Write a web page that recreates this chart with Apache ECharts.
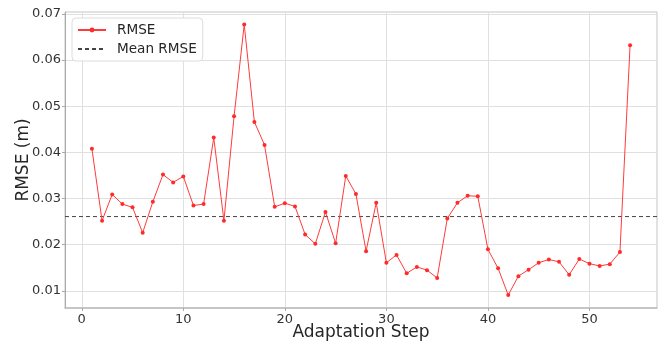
<!DOCTYPE html>
<html>
<head>
<meta charset="utf-8">
<script src="https://cdn.jsdelivr.net/npm/echarts@6/dist/echarts.min.js"></script>
<style>
  html, body { margin: 0; padding: 0; background: #fff; }
  #chart { width: 660px; height: 345px; }
</style>
</head>
<body>
<div id="chart"></div>
<script>
// adaptation steps 1..54
const steps = [1, 2, 3, 4, 5, 6, 7, 8, 9, 10, 11, 12, 13, 14, 15, 16, 17, 18, 19, 20,
  21, 22, 23, 24, 25, 26, 27, 28, 29, 30, 31, 32, 33, 34, 35, 36, 37, 38, 39, 40,
  41, 42, 43, 44, 45, 46, 47, 48, 49, 50, 51, 52, 53, 54]
const rmse = [0.0408, 0.0252, 0.0309, 0.0288, 0.0281, 0.0226, 0.0293, 0.0352, 0.0335, 0.0348,
  0.0285, 0.0288, 0.0432, 0.0252, 0.0478, 0.0677, 0.0466, 0.0416, 0.0282, 0.0290,
  0.0283, 0.0222, 0.0202, 0.0271, 0.0203, 0.0349, 0.0310, 0.0186, 0.0291, 0.0161,
  0.0178, 0.0138, 0.0152, 0.0145, 0.0128, 0.0257, 0.0291, 0.0306, 0.0305, 0.0190,
  0.0149, 0.0091, 0.0132, 0.0146, 0.0161, 0.0168, 0.0163, 0.0135, 0.0169, 0.0159,
  0.0154, 0.0158, 0.0184, 0.0632]
const meanRmse = 0.0261
const xTicks = [0, 10, 20, 30, 40, 50]
const yTicks = [0.01, 0.02, 0.03, 0.04, 0.05, 0.06, 0.07]
const xRange = [-1.65, 56.65]
const yRange = [0.0063, 0.0704]

const chart = echarts.init(document.getElementById('chart'))
const font = 'DejaVu Sans'

const option = {
  animation: false,
  grid: {
    left: 65, right: 3, top: 12, bottom: 37,
    outerBoundsMode: 'none',
    show: true, borderColor: '#c4c4c4', borderWidth: 1
  },
  legend: {
    orient: 'vertical',
    left: 72,
    top: 18,
    itemWidth: 28,
    itemHeight: 6,
    itemGap: 5,
    padding: [5, 6, 5, 5],
    borderColor: '#dcdcdc',
    borderWidth: 1,
    borderRadius: 4,
    backgroundColor: '#ffffff',
    textStyle: { fontFamily: font, fontSize: 13.6, color: '#262626', padding: [0, 0, 0, 6] },
    data: ['RMSE', { name: 'Mean RMSE', itemStyle: { opacity: 0 } }]
  },
  xAxis: {
    type: 'value',
    min: xRange[0],
    max: xRange[1],
    name: 'Adaptation Step',
    nameLocation: 'middle',
    nameGap: 16,
    nameMoveOverlap: false,
    nameTextStyle: { fontFamily: font, fontSize: 17, color: '#262626' },
    axisLine: { show: true, onZero: false, lineStyle: { color: '#bdbdbd', width: 1.5 } },
    axisTick: { show: true, length: 3, customValues: xTicks, lineStyle: { color: '#aaa' } },
    axisLabel: { customValues: xTicks, fontFamily: font, fontSize: 13, color: '#333', margin: 5 },
    splitLine: { show: true, lineStyle: { color: '#e0e0e0', width: 1 } }
  },
  yAxis: {
    type: 'value',
    min: yRange[0],
    max: yRange[1],
    name: 'RMSE (m)',
    nameLocation: 'middle',
    nameGap: 33,
    nameMoveOverlap: false,
    nameTextStyle: { fontFamily: font, fontSize: 17, color: '#262626' },
    axisLine: { show: true, onZero: false, lineStyle: { color: '#aaaaaa' } },
    axisTick: { show: true, length: 3, customValues: yTicks, lineStyle: { color: '#aaa' } },
    axisLabel: {
      customValues: yTicks, fontFamily: font, fontSize: 13, color: '#333', margin: 4,
      formatter: v => v.toFixed(2)
    },
    splitLine: { show: true, lineStyle: { color: '#e0e0e0', width: 1 } }
  },
  series: [
    {
      name: 'RMSE',
      type: 'line',
      data: steps.map((s, i) => [s, rmse[i]]),
      symbol: 'circle',
      symbolSize: 4,
      itemStyle: { color: '#ff2a2a' },
      lineStyle: { color: '#ff3b3b', width: 1 },
      z: 3
    },
    {
      name: 'Mean RMSE',
      type: 'line',
      data: [[xRange[0], meanRmse], [xRange[1], meanRmse]],
      symbol: 'none',
      itemStyle: { color: '#444' },
      lineStyle: { color: '#444', width: 1, type: [4, 3] },
      z: 2
    }
  ]
}

chart.setOption(option)
</script>
</body>
</html>
